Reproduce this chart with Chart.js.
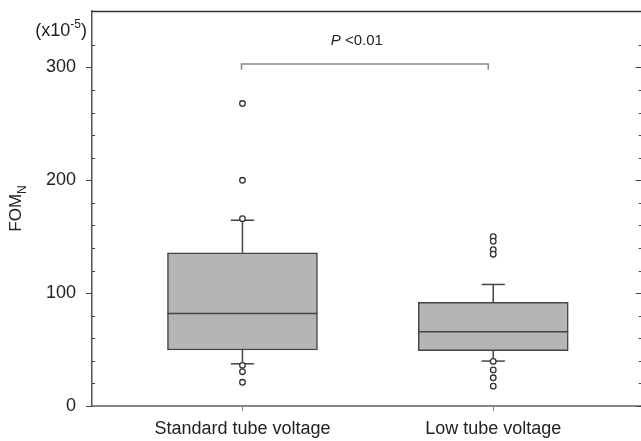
<!DOCTYPE html>
<html><head><meta charset="utf-8">
<script src="https://cdn.jsdelivr.net/npm/chart.js@4.4.1/dist/chart.umd.min.js"></script>
<style>
html,body{margin:0;padding:0;background:#fff;overflow:hidden;}
#wrap{width:641px;height:441px;overflow:hidden;position:relative;}
#wrap canvas{position:absolute;left:0;top:0;}
</style></head><body>
<div id="wrap"><canvas id="c" width="649" height="441" style="width:649px;height:441px"></canvas></div>
<script>
// ---- data ----
const categories = ['Standard tube voltage', 'Low tube voltage'];
const q1 = [49.6, 49.0];
const median = [82.0, 65.8];
const q3 = [135.7, 91.8];
const whiskerLow = [37.4, 39.8];
const whiskerHigh = [164.6, 107.7];
const outliersStandard = [268, 200, 166, 36, 30.4, 21];
const outliersLow = [150, 146, 138.5, 134.5, 39.5, 32, 25, 17.6];
const yMajorTicks = [0, 100, 200, 300];
const bracketValue = 303;
const pText = ['P', ' <0.01'];
const yTitle = ['FOM', 'N'];
const unitText = ['(x10', '-5', ')'];

const outlierSets = [outliersStandard, outliersLow];
const FONT = '"Liberation Sans", Arial, sans-serif';

const deco = {
  id: 'deco',
  afterDatasetDraw(chart, args) {
    if (args.index !== 0) return;
    const ctx = chart.ctx, x = chart.scales.x, y = chart.scales.y;
    const meta = chart.getDatasetMeta(0);
    ctx.save();
    ctx.strokeStyle = '#444';
    ctx.lineWidth = 1.5;
    const seg = (x1, y1, x2, y2) => { ctx.beginPath(); ctx.moveTo(x1, y1); ctx.lineTo(x2, y2); ctx.stroke(); };
    categories.forEach((c, i) => {
      const cx = x.getPixelForValue(i + 1);
      const half = meta.data[i].width / 2;
      const cap = half * 0.155;
      const ym = y.getPixelForValue(median[i]);
      seg(cx - half, ym, cx + half, ym);
      seg(cx, y.getPixelForValue(q3[i]), cx, y.getPixelForValue(whiskerHigh[i]));
      seg(cx, y.getPixelForValue(q1[i]), cx, y.getPixelForValue(whiskerLow[i]));
      seg(cx - cap, y.getPixelForValue(whiskerHigh[i]), cx + cap, y.getPixelForValue(whiskerHigh[i]));
      seg(cx - cap, y.getPixelForValue(whiskerLow[i]), cx + cap, y.getPixelForValue(whiskerLow[i]));
    });
    ctx.restore();
  },
  afterDraw(chart) {
    const ctx = chart.ctx, x = chart.scales.x, y = chart.scales.y, a = chart.chartArea;
    ctx.save();
    // top frame
    ctx.strokeStyle = '#333'; ctx.lineWidth = 1.5;
    ctx.beginPath(); ctx.moveTo(a.left, a.top + 0.5); ctx.lineTo(a.right, a.top + 0.5); ctx.stroke();
    // y ticks left & right
    ctx.strokeStyle = '#444'; ctx.lineWidth = 1;
    y.ticks.forEach(t => {
      const v = t.value;
      if (Math.round(v) % 20 !== 0) return;
      const py = Math.round(y.getPixelForValue(v)) + 0.5;
      const major = yMajorTicks.includes(v);
      ctx.beginPath();
      if (major) { ctx.moveTo(a.left - 6, py); ctx.lineTo(a.left, py); }
      else { ctx.moveTo(a.left, py); ctx.lineTo(a.left + 3, py); }
      ctx.moveTo(a.right - (major ? 8 : 5), py); ctx.lineTo(a.right, py);
      ctx.stroke();
    });
    // significance bracket
    const bx1 = x.getPixelForValue(1) - 1, bx2 = x.getPixelForValue(2) - 5;
    const by = y.getPixelForValue(bracketValue), byt = y.getPixelForValue(bracketValue - 5);
    ctx.strokeStyle = '#888'; ctx.lineWidth = 1.5;
    ctx.beginPath(); ctx.moveTo(bx1, byt); ctx.lineTo(bx1, by); ctx.lineTo(bx2, by); ctx.lineTo(bx2, byt); ctx.stroke();
    // P text
    ctx.fillStyle = '#222';
    ctx.textBaseline = 'alphabetic';
    ctx.font = 'italic 15px ' + FONT;
    const w1 = ctx.measureText(pText[0]).width;
    ctx.font = '15px ' + FONT;
    const w2 = ctx.measureText(pText[1]).width;
    const px0 = (bx1 + bx2) / 2 - (w1 + w2) / 2 - 8;
    ctx.font = 'italic 15px ' + FONT;
    ctx.fillText(pText[0], px0, by - 19);
    ctx.font = '15px ' + FONT;
    ctx.fillText(pText[1], px0 + w1, by - 19);
    // unit label
    ctx.font = '18px ' + FONT;
    const u1 = ctx.measureText(unitText[0]).width, u3 = ctx.measureText(unitText[2]).width;
    ctx.font = '12px ' + FONT;
    const u2 = ctx.measureText(unitText[1]).width;
    let ux = 87 - (u1 + u2 + u3);
    ctx.font = '18px ' + FONT; ctx.fillText(unitText[0], ux, 36);
    ctx.font = '12px ' + FONT; ctx.fillText(unitText[1], ux + u1, 28);
    ctx.font = '18px ' + FONT; ctx.fillText(unitText[2], ux + u1 + u2, 36);
    // y title
    ctx.translate(21, (a.top + a.bottom) / 2);
    ctx.rotate(-Math.PI / 2);
    ctx.font = '17px ' + FONT;
    const t1 = ctx.measureText(yTitle[0]).width;
    ctx.font = '12px ' + FONT;
    const t2 = ctx.measureText(yTitle[1]).width;
    const tx = -(t1 + t2) / 2;
    ctx.font = '17px ' + FONT; ctx.fillText(yTitle[0], tx, 0);
    ctx.font = '12px ' + FONT; ctx.fillText(yTitle[1], tx + t1, 5);
    ctx.restore();
  }
};

new Chart(document.getElementById('c'), {
  type: 'bar',
  data: {
    datasets: [
      {
        type: 'bar',
        data: categories.map((c, i) => ({ x: i + 1, y: [q1[i], q3[i]] })),
        backgroundColor: '#b5b5b5',
        borderColor: '#444',
        borderWidth: 1.5,
        borderSkipped: false,
        barThickness: 150,
        order: 2
      },
      {
        type: 'scatter',
        data: outlierSets.flatMap((arr, i) => arr.map(v => ({ x: i + 1, y: v }))),
        pointRadius: 2.8,
        pointBorderWidth: 1.3,
        borderColor: '#333',
        backgroundColor: '#fff',
        order: 1
      }
    ]
  },
  options: {
    responsive: false,
    animation: false,
    layout: { padding: { left: 0, right: 1, top: 11, bottom: 0 } },
    plugins: { legend: { display: false }, tooltip: { enabled: false } },
    scales: {
      x: {
        type: 'linear', min: 0.4, max: 2.6, offset: false,
        afterBuildTicks: s => { s.ticks = categories.map((c, i) => ({ value: i + 1 })); },
        afterFit: s => { s.height = 35; s.paddingLeft = 0; s.paddingRight = 0; s.paddingTop = 0; s.paddingBottom = 0; },
        ticks: {
          callback: v => categories[v - 1] || '',
          font: { family: FONT, size: 18 }, color: '#222', padding: 7, maxRotation: 0, autoSkip: false
        },
        grid: { display: true, offset: false, drawOnChartArea: false, tickLength: 5, color: '#888', lineWidth: 1 },
        border: { display: true, color: '#888', width: 2 }
      },
      y: {
        type: 'linear', min: 0, max: 350,
        afterFit: s => { s.width = 92; s.paddingTop = 0; s.paddingBottom = 0; s.paddingLeft = 0; s.paddingRight = 0; },
        ticks: {
          stepSize: 20, autoSkip: false,
          callback: v => yMajorTicks.includes(v) ? String(v) : '',
          font: { family: FONT, size: 18 }, color: '#222', padding: 16
        },
        grid: { display: false, drawTicks: false },
        border: { display: true, color: '#555', width: 1.5 }
      }
    }
  },
  plugins: [deco]
});
</script>
</body></html>
